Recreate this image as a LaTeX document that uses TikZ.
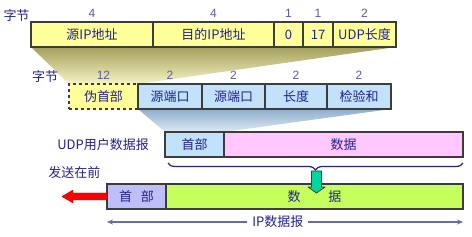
\documentclass[tikz,border=0pt]{standalone}
\usepackage{fontspec}
\usepackage{xcolor}
\usepackage{tikz}
\usetikzlibrary{arrows.meta,calc,positioning,decorations.pathreplacing,backgrounds}
\newfontfamily\cjkfont{Noto Sans CJK SC}
\newfontfamily\numfont{Liberation Sans}
\definecolor{udp-ink}{HTML}{22228E}
\definecolor{udp-num}{HTML}{5A5AA2}
\definecolor{udp-edge}{HTML}{3C3C3C}
\definecolor{udp-yellow}{HTML}{FFFF99}
\definecolor{udp-blue}{HTML}{C2E2FC}
\definecolor{udp-pink}{HTML}{FFC6FF}
\definecolor{udp-lilac}{HTML}{BEBEF8}
\definecolor{udp-lime}{HTML}{C4FF5C}
\definecolor{udp-olive}{HTML}{A4A05A}
\definecolor{udp-olivelt}{HTML}{F4F4C6}
\definecolor{udp-steel}{HTML}{8EAECC}
\definecolor{udp-steellt}{HTML}{DEEAF4}
\definecolor{udp-mint}{HTML}{00D6A0}
\definecolor{udp-line}{HTML}{6A6AAE}

\tikzset{
  field/.style={draw=udp-edge,line width=1.2pt,outer sep=0pt,inner sep=0pt,
    minimum height=25pt,text=udp-ink,font=\cjkfont\fontsize{13}{15}\selectfont},
  num/.style={text=udp-num,font=\numfont\fontsize{12}{14}\selectfont,
    inner sep=1pt,label distance=3.5pt},
  lbl/.style={text=udp-ink,font=\cjkfont\fontsize{13}{15}\selectfont,inner sep=0pt},
}

\begin{document}
\begin{tikzpicture}[>=Stealth,x=1pt,y=-1pt]
  \useasboundingbox (0,0) rectangle (472,237);

  % IP首部中的字段
  \node[lbl] (bytes1) at (16.5,16) {字节};
  \node[field,fill=udp-yellow,minimum width=122pt,anchor=north west,label={[num]above:4}] (srcip) at (31,22) {源IP地址};
  \node[field,fill=udp-yellow,minimum width=121pt,right=0pt of srcip,label={[num]above:4}] (dstip) {目的IP地址};
  \node[field,fill=udp-yellow,minimum width=29pt,right=0pt of dstip,label={[num]above:1}] (zero) {0};
  \node[field,fill=udp-yellow,minimum width=30pt,right=0pt of zero,label={[num]above:1}] (proto) {17};
  \node[field,fill=udp-yellow,minimum width=63pt,right=0pt of proto,label={[num]above:2}] (udplen) {UDP长度};

  % 伪首部 + UDP首部
  \node[lbl] (bytes2) at (45,77) {字节};
  \node[field,fill=udp-yellow,dashed,minimum width=69pt,anchor=north west,label={[num]above:12}] (pseudo) at (69,84) {伪首部};
  \node[field,fill=udp-blue,minimum width=64pt,right=0pt of pseudo,label={[num]above:2}] (srcport) {源端口};
  \node[field,fill=udp-blue,minimum width=63pt,right=0pt of srcport,label={[num]above:2}] (dstport) {源端口};
  \node[field,fill=udp-blue,minimum width=62pt,right=0pt of dstport,label={[num]above:2}] (len) {长度};
  \node[field,fill=udp-blue,minimum width=64pt,right=0pt of len,label={[num]above:2}] (chksum) {检验和};

  % UDP用户数据报
  \node[field,fill=udp-blue,minimum width=59pt,anchor=north west] (udphdr) at (165,132) {首部};
  \node[field,fill=udp-pink,minimum width=239pt,right=0pt of udphdr] (udpdata) {数据};
  \node[lbl,left=16pt of udphdr] (udplbl) {UDP用户数据报};

  % IP数据报
  \node[field,fill=udp-lilac,minimum width=59pt,anchor=north west] (iphdr) at (107,184) {首\hspace{9pt}部};
  \node[field,fill=udp-lime,minimum width=297pt,right=0pt of iphdr] (ipdata) {数\hspace{28pt}据};
  \node[lbl] (sendfirst) at (74.5,173) {发送在前};

  % 阴影
  \begin{scope}[on background layer]
    \shade[top color=udp-olive,bottom color=udp-olivelt] (srcip.south west) -- (udplen.south east) -- (pseudo.north east) -- (pseudo.north west) -- cycle;
    \shade[top color=udp-steel,bottom color=udp-steellt] (srcport.south west) -- (chksum.south east) -- (udphdr.north east) -- (udphdr.north west) -- cycle;
  \end{scope}

  % 花括号和箭头
  \draw[udp-ink,line width=1.2pt,decorate,decoration={brace,mirror,amplitude=7pt}] ($(udphdr.south west)+(3,6)$) -- ($(udpdata.south east)+(0,6)$);
  \filldraw[fill=udp-mint,draw=udp-edge,line width=0.8pt,line join=round] (311.5,171) -- (321.5,171) -- (321.5,187) -- (325,187) -- (316.5,193) -- (308,187) -- (311.5,187) -- cycle;
  \filldraw[fill=red,draw=red!75!black,line width=0.4pt] (iphdr.west) ++(0,-3.5) -- ++(-34,0) -- ++(0,-3) -- ++(-11,6.5) -- ++(11,6.5) -- ++(0,-3) -- ++(34,0) -- cycle;

  \draw[udp-line,line width=1.2pt,{Stealth[length=6pt,width=5pt]}-{Stealth[length=6pt,width=5pt]}] ($(iphdr.south west)+(0,13)$) -- node[lbl,pos=.48,fill=white,inner xsep=5pt] (iplen) {IP数据报} ($(ipdata.south east)+(0,13)$);
\end{tikzpicture}
\end{document}
